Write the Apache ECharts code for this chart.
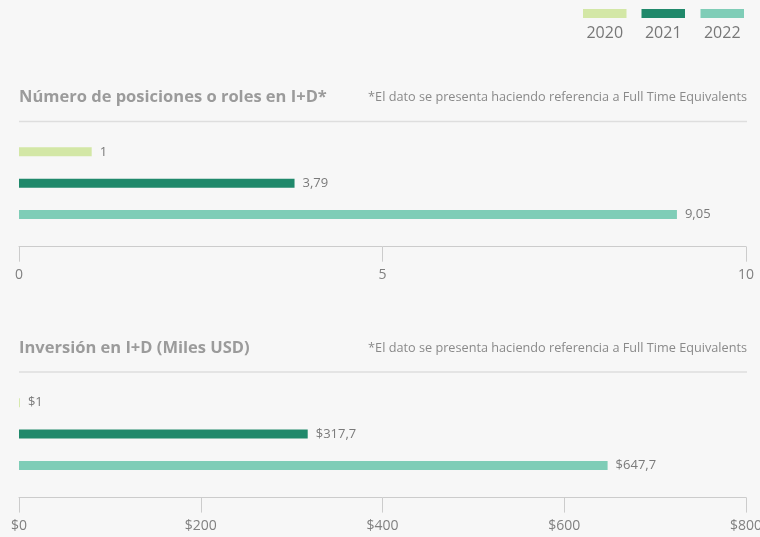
<!DOCTYPE html>
<html>
<head>
<meta charset="utf-8">
<script src="https://cdn.jsdelivr.net/npm/echarts@6/dist/echarts.min.js"></script>
<style>
  html, body { margin: 0; padding: 0; background: #f7f7f7; }
  #chart { width: 760px; height: 537px; }
</style>
</head>
<body>
<div id="chart"></div>
<script>
// Years shown in both panels (one series per year)
const years = ['2020', '2021', '2022'];
const yearColors = ['#d3e7a6', '#20896b', '#7fcdb7'];

// Panel 1: FTE positions in R&D
const roles = [1, 3.79, 9.05];
const rolesMax = 10;
const rolesInterval = 5;

// Panel 2: R&D investment (thousand USD)
const investment = [1, 317.7, 647.7];
const investMax = 800;
const investInterval = 200;

const titleRoles = 'Número de posiciones o roles en I+D*';
const titleInvest = 'Inversión en I+D (Miles USD)';
const noteText = '*El dato se presenta haciendo referencia a Full Time Equivalents';

const FONT = '"Open Sans", Lato, sans-serif';
const comma = v => String(v).replace('.', ',');

const chart = echarts.init(document.getElementById('chart'), null, { renderer: 'canvas' });

function xAxisFor(gridIndex, max, interval, prefix) {
  return {
    gridIndex, type: 'value', min: 0, max, interval,
    position: 'bottom', offset: 16.4,
    axisLine: { show: true, lineStyle: { color: '#cccccc', width: 1 } },
    axisTick: { show: true, length: 15, lineStyle: { color: '#cccccc' } },
    splitLine: { show: false },
    axisLabel: {
      margin: 21, color: '#808080', fontSize: 14, fontFamily: FONT,
      hideOverlap: false,
      formatter: v => prefix + v
    }
  };
}
function yAxisFor(gridIndex) {
  return {
    gridIndex, type: 'category', data: years, inverse: true,
    axisLine: { show: false }, axisTick: { show: false }, axisLabel: { show: false }
  };
}

const series = [];
years.forEach((y, i) => {
  [[roles, 0, ''], [investment, 1, '$']].forEach(([values, idx, prefix]) => {
    series.push({
      name: y, type: 'bar',
      xAxisIndex: idx, yAxisIndex: idx,
      barWidth: 9, barGap: '-100%',
      itemStyle: { color: yearColors[i] },
      data: years.map((_, j) => (j === i ? values[j] : '-')),
      label: {
        show: true, position: 'right', distance: 8,
        color: '#7a7a7a', fontSize: 13, fontFamily: FONT,
        formatter: p => prefix + comma(p.value)
      },
      emphasis: { disabled: true }
    });
  });
});

// Legend: swatches in three single-item legends, year text beneath via graphic
const legendLeft = [583, 641.5, 700.5];
const legends = years.map((y, i) => ({
  data: [y], left: legendLeft[i], top: 9,
  itemWidth: 43.5, itemHeight: 9, itemGap: 0, padding: 0,
  icon: 'rect', formatter: () => '',
  textStyle: { fontSize: 1 }
}));

const graphics = [
  ...years.map((y, i) => ({
    type: 'text', x: legendLeft[i] + 21.75, y: 33,
    style: { text: y, fill: '#777777', fontSize: 16, fontFamily: FONT, align: 'center', verticalAlign: 'middle' }
  })),
  { type: 'text', x: 19, y: 97, style: { text: titleRoles, fill: '#9b9b9b', fontSize: 16.5, fontWeight: 'bold', fontFamily: FONT, verticalAlign: 'middle' } },
  { type: 'text', x: 747, y: 97, style: { text: noteText, fill: '#8a8a8a', fontSize: 12.7, fontFamily: FONT, align: 'right', verticalAlign: 'middle' } },
  { type: 'line', shape: { x1: 19, y1: 121.5, x2: 747, y2: 121.5 }, style: { stroke: '#dedede', lineWidth: 1.5 } },
  { type: 'text', x: 19, y: 348, style: { text: titleInvest, fill: '#9b9b9b', fontSize: 16.5, fontWeight: 'bold', fontFamily: FONT, verticalAlign: 'middle' } },
  { type: 'text', x: 747, y: 348, style: { text: noteText, fill: '#8a8a8a', fontSize: 12.7, fontFamily: FONT, align: 'right', verticalAlign: 'middle' } },
  { type: 'line', shape: { x1: 19, y1: 372, x2: 747, y2: 372 }, style: { stroke: '#dedede', lineWidth: 1.5 } }
];

chart.setOption({
  backgroundColor: '#f7f7f7',
  animation: false,
  legend: legends,
  graphic: graphics,
  grid: [
    { left: 19, right: 14, top: 136.1, height: 94.2, outerBoundsMode: 'none', containLabel: false },
    { left: 19, right: 14, top: 387, height: 94.2, outerBoundsMode: 'none', containLabel: false }
  ],
  xAxis: [
    xAxisFor(0, rolesMax, rolesInterval, ''),
    xAxisFor(1, investMax, investInterval, '$')
  ],
  yAxis: [yAxisFor(0), yAxisFor(1)],
  series
});
</script>
</body>
</html>
